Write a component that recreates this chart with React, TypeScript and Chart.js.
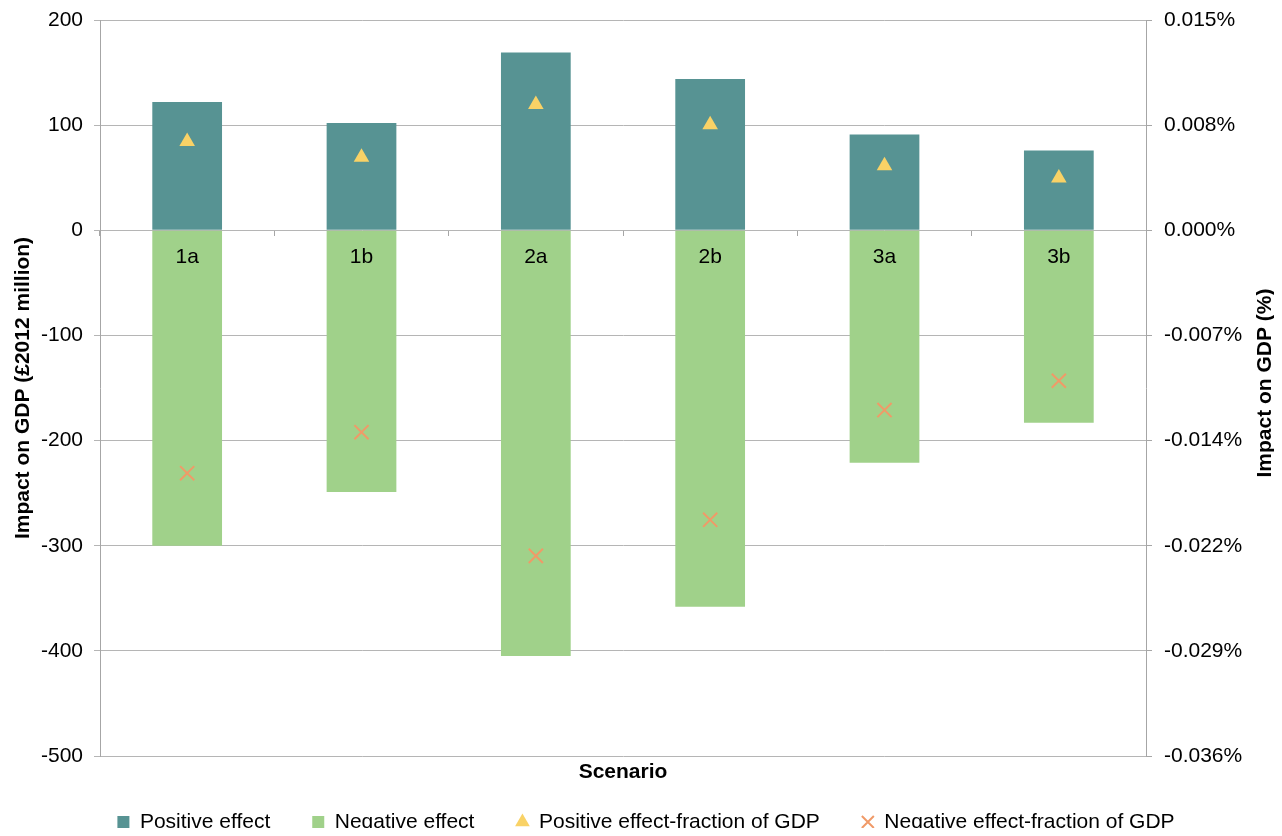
import React, { useEffect, useRef } from "react";
import { Chart, registerables } from "chart.js";

Chart.register(...registerables);

const scenarios = ["1a", "1b", "2a", "2b", "3a", "3b"];
const positiveEffect = [122, 102, 169, 144, 91, 76];
const negativeEffect = [-300, -249, -405, -358, -221, -183];
const positiveFraction = [0.00613, 0.00505, 0.00868, 0.00729, 0.00446, 0.00361];
const negativeFraction = [-0.01677, -0.01394, -0.02248, -0.01999, -0.01241, -0.01039];

const leftTickValues = [-500, -400, -300, -200, -100, 0, 100, 200];
const rightTickLabels = ["-0.036%", "-0.029%", "-0.022%", "-0.014%", "-0.007%", "0.000%", "0.008%", "0.015%"];
const PCT_PER_MILLION = 0.0000726;

const seriesNames = [
  "Positive effect",
  "Negative effect",
  "Positive effect-fraction of GDP",
  "Negative effect-fraction of GDP",
];
const leftTitle = "Impact on GDP (£2012 million)";
const rightTitle = "Impact on GDP (%)";
const xTitle = "Scenario";

const FONT = "'Liberation Sans', Arial, Helvetica, sans-serif";
const GRID = "#B5B5B5";
const AXIS = "#A6A6A6";

const extraText = {
  id: "extraText",
  afterDatasetsDraw(chart: any) {
    const { ctx } = chart;
    const xs = chart.scales.x;
    const zero = chart.scales.y.getPixelForValue(0);
    ctx.save();
    ctx.font = `21px ${FONT}`;
    ctx.fillStyle = "#000";
    ctx.textAlign = "center";
    ctx.textBaseline = "middle";
    scenarios.forEach((label, i) => {
      ctx.fillText(label, xs.getPixelForValue(i), zero + 27);
    });
    ctx.restore();
  },
  afterDraw(chart: any) {
    const { ctx, chartArea } = chart;
    ctx.save();
    ctx.font = `bold 21px ${FONT}`;
    ctx.fillStyle = "#000";
    ctx.textAlign = "center";
    ctx.textBaseline = "middle";
    ctx.fillText(xTitle, (chartArea.left + chartArea.right) / 2, chartArea.bottom + 16);
    ctx.translate(chart.width - 9, (chartArea.top + chartArea.bottom) / 2 - 5);
    ctx.rotate(-Math.PI / 2);
    ctx.fillText(rightTitle, 0, 0);
    ctx.restore();
  },
};

const noPad = (s: any) => {
  s.paddingTop = 0;
  s.paddingBottom = 0;
};

export default function App() {
  const ref = useRef<HTMLCanvasElement>(null);
  useEffect(() => {
    if (!ref.current) return;
    Chart.defaults.font.family = FONT;
    Chart.defaults.color = "#000";
    const chart = new Chart(ref.current, {
      type: "bar",
      data: {
        labels: scenarios,
        datasets: [
          {
            type: "bar",
            label: seriesNames[0],
            data: positiveEffect,
            backgroundColor: "#579393",
            borderWidth: 0,
            stack: "s",
            order: 2,
            pointStyle: "rect",
          } as any,
          {
            type: "bar",
            label: seriesNames[1],
            data: negativeEffect,
            backgroundColor: "#A0D18A",
            borderWidth: 0,
            stack: "s",
            order: 2,
            pointStyle: "rect",
          } as any,
          {
            type: "line",
            label: seriesNames[2],
            data: positiveFraction,
            yAxisID: "y2",
            showLine: false,
            pointStyle: "triangle",
            pointRadius: 9,
            pointBorderWidth: 0,
            backgroundColor: "#F9D266",
            borderColor: "#F9D266",
            borderWidth: 0,
            order: 1,
          } as any,
          {
            type: "line",
            label: seriesNames[3],
            data: negativeFraction,
            yAxisID: "y2",
            showLine: false,
            pointStyle: "crossRot",
            pointRadius: 10,
            pointBorderWidth: 2,
            backgroundColor: "#F09A68",
            borderColor: "#F09A68",
            borderWidth: 2,
            order: 1,
          } as any,
        ],
      },
      options: {
        responsive: false,
        animation: false,
        layout: { padding: { top: 7, left: 10, right: 0, bottom: 0 } },
        datasets: { bar: { barPercentage: 0.4, categoryPercentage: 1 } },
        plugins: {
          tooltip: { enabled: false },
          legend: {
            position: "bottom",
            maxHeight: 66.5,
            labels: {
              usePointStyle: true,
              boxWidth: 12,
              boxHeight: 12,
              padding: 42,
              font: { size: 21 },
              color: "#000",
              sort: (a: any, b: any) => a.datasetIndex - b.datasetIndex,
            },
          },
        },
        scales: {
          x: {
            type: "category",
            position: { y: 0 } as any,
            stacked: true,
            grid: {
              display: true,
              drawOnChartArea: false,
              drawTicks: true,
              tickLength: 6,
              color: AXIS,
              offset: true,
            },
            border: { display: false },
            ticks: { display: false },
          },
          x2: {
            type: "category",
            position: "bottom",
            display: true,
            grid: { display: false, drawTicks: false },
            border: { display: false },
            ticks: { display: false },
            afterFit: (s: any) => {
              s.height = 13.5;
              s.paddingLeft = 0;
              s.paddingRight = 0;
            },
          },
          y: {
            position: "left",
            stacked: true,
            min: -500,
            max: 200,
            ticks: { stepSize: 100, font: { size: 21 }, color: "#000", padding: 11 },
            grid: { color: GRID, tickLength: 6, drawTicks: true },
            border: { display: true, color: AXIS },
            title: {
              display: true,
              text: leftTitle,
              font: { size: 21, weight: "bold" },
              color: "#000",
              padding: { top: -7, bottom: 0 },
            },
            afterFit: (s: any) => {
              s.width = 82;
              noPad(s);
            },
          },
          y2: {
            position: "right",
            min: -500 * PCT_PER_MILLION,
            max: 200 * PCT_PER_MILLION,
            afterBuildTicks: (s: any) => {
              s.ticks = leftTickValues.map((v) => ({ value: v * PCT_PER_MILLION }));
            },
            ticks: {
              font: { size: 21 },
              color: "#000",
              padding: 12,
              callback: (_v: any, i: number) => rightTickLabels[i],
            },
            grid: { drawOnChartArea: false, drawTicks: true, tickLength: 6, color: AXIS },
            border: { display: true, color: AXIS },
            afterFit: (s: any) => {
              s.width = 128;
              noPad(s);
            },
          },
        },
      } as any,
      plugins: [extraText],
    });
    return () => chart.destroy();
  }, []);
  return (
    <div style={{ width: 1266, height: 820 }}>
      <canvas ref={ref} width={1266} height={828} style={{ display: "block" }} />
    </div>
  );
}
